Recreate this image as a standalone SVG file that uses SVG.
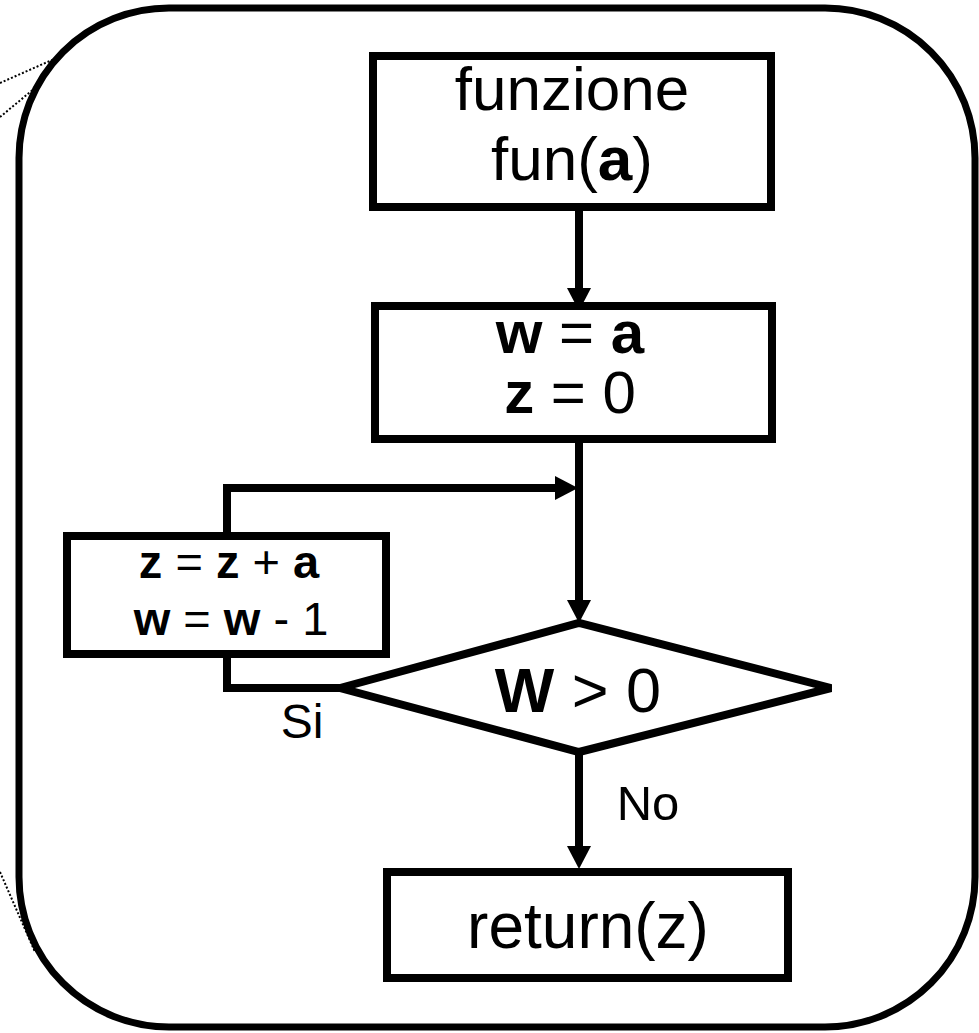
<svg xmlns="http://www.w3.org/2000/svg" width="979" height="1033" viewBox="0 0 979 1033">
<style>
.box{fill:#fff;stroke:#000;stroke-width:8}
.con{fill:none;stroke:#000;stroke-width:8}
.head{fill:#000;stroke:none}
.dot{fill:none;stroke:#000;stroke-width:2;stroke-dasharray:2 2}
text{font-family:"Liberation Sans",Arial,sans-serif;fill:#000;text-anchor:middle}
.b{font-weight:bold}
</style>
<g id="callouts">
<path class="dot" d="M0,83 L52,60"/>
<path class="dot" d="M0,117 L35,88"/>
<path class="dot" d="M0,872 L35,952"/>
</g>
<g id="frame">
<rect x="19" y="8" width="956" height="1019" rx="150" ry="150" fill="none" stroke="#000" stroke-width="7"/>
</g>
<g id="connectors">
<path class="con" d="M579,211 L579,292"/>
<path class="head" d="M567,288 L591,288 L579,311 Z"/>
<path class="con" d="M227,536 L227,488 L560,488"/>
<path class="head" d="M555,476 L555,500 L578,488 Z"/>
<path class="con" d="M579,439 L579,604"/>
<path class="head" d="M567,600 L591,600 L579,623 Z"/>
<path class="con" d="M340,688 L227,688 L227,654"/>
<path class="con" d="M579,752 L579,850"/>
<path class="head" d="M567,846 L591,846 L579,869 Z"/>
</g>
<g id="start">
<rect class="box" x="373" y="56" width="398" height="151"/>
<text x="572" y="110" font-size="62">funzione</text>
<text x="572" y="180" font-size="62">fun(<tspan class="b">a</tspan>)</text>
</g>
<g id="init">
<rect class="box" x="375" y="306" width="397" height="133"/>
<text x="570" y="353" font-size="60"><tspan class="b">w</tspan> = <tspan class="b">a</tspan></text>
<text x="570" y="413" font-size="60"><tspan class="b">z</tspan> = 0</text>
</g>
<g id="body">
<rect class="box" x="67" y="536" width="319" height="118"/>
<text x="229" y="578" font-size="47"><tspan class="b">z</tspan> = <tspan class="b">z</tspan> + <tspan class="b">a</tspan></text>
<text x="231" y="635" font-size="47"><tspan class="b">w</tspan> = <tspan class="b">w</tspan> - 1</text>
</g>
<g id="cond">
<polygon class="box" points="340,688 579,623 831,688 579,752"/>
<text x="578" y="712" font-size="63"><tspan class="b">W</tspan> &gt; 0</text>
</g>
<g id="labels">
<text x="302" y="738" font-size="48">Si</text>
<text x="648" y="820" font-size="49">No</text>
</g>
<g id="end">
<rect class="box" x="387" y="872" width="401" height="106"/>
<text x="588" y="948" font-size="64">return(z)</text>
</g>
</svg>
